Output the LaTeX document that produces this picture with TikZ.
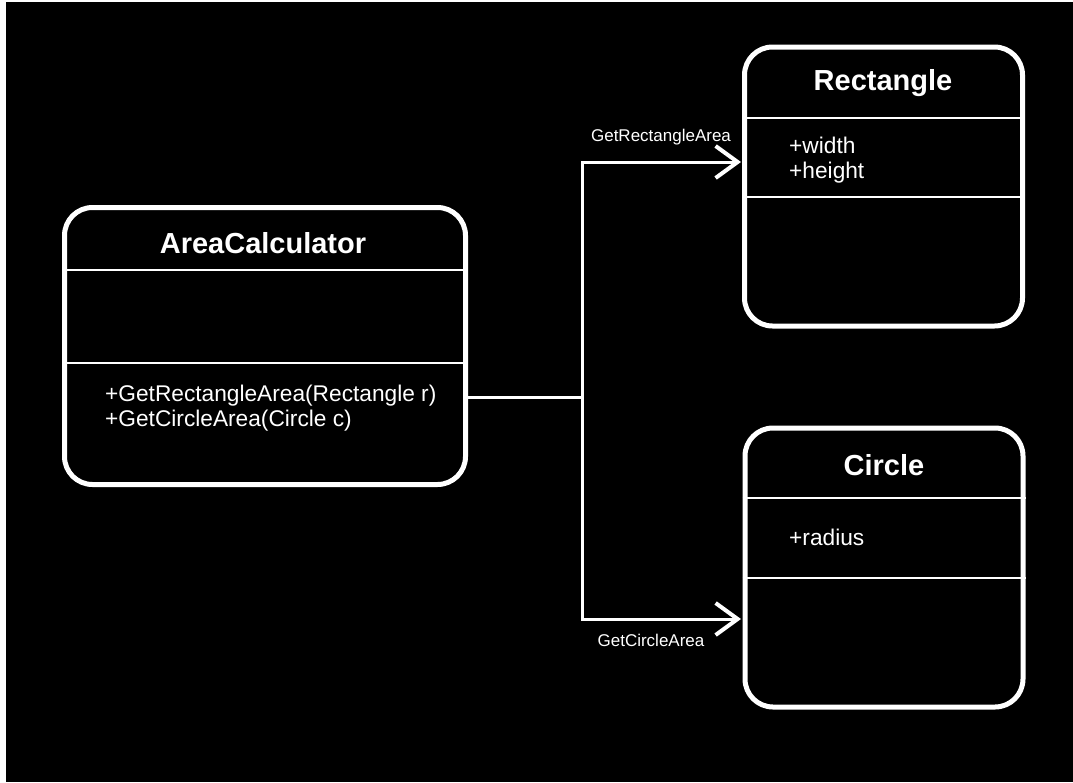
\documentclass[tikz,border=0pt]{standalone}
\usepackage{fontspec}
\setmainfont{Liberation Sans}
\usetikzlibrary{
    arrows.meta,
    calc,
    positioning
}
\tikzset{
    classbox/.style={draw=white, line width=5pt, rounded corners=28pt, inner sep=0pt, minimum width=278pt, minimum height=279pt},
    divider/.style={draw=white, line width=2.5pt},
    classname/.style={text=white, inner sep=0pt, font=\fontsize{29pt}{34pt}\selectfont\bfseries},
    member/.style={text=white, anchor=west, align=left, inner sep=0pt, font=\fontsize{22.7pt}{25pt}\selectfont},
    call/.style={text=white, inner sep=0pt, font=\fontsize{17pt}{20pt}\selectfont},
    link/.style={draw=white, line width=3pt},
    dep/.style={link, -{Straight Barb[length=22pt, width=32pt, line width=4pt]}}
}
\begin{document}
\begin{tikzpicture}[x=1pt, y=-1pt]
                                \useasboundingbox (0, 0) rectangle (1073, 782);
                                \fill[white] (0, 0) rectangle (1073, 782);
                                \fill[black] (6, 2) rectangle (1073, 782);
                                \node[classbox, minimum width=401pt, minimum height=277pt] (calc) at (265, 346) {};
                                \node[classbox] (rect) at (883.5, 186.5) {};
                                \node[classbox] (circ) at (884, 567.5) {};
                                \draw[divider] (calc.west |- 0, 270) -- (calc.east |- 0, 270);
                                \draw[divider] (calc.west |- 0, 363) -- (calc.east |- 0, 363);
                                \draw[divider] (rect.west |- 0, 118) -- (rect.east |- 0, 118);
                                \draw[divider] (rect.west |- 0, 197) -- (rect.east |- 0, 197);
                                \draw[divider] (circ.west |- 0, 498) -- (circ.east |- 0, 498);
                                \draw[divider] (circ.west |- 0, 578) -- (circ.east |- 0, 578);
                                \node[classname] (calcname) at (263, 243) {AreaCalculator};
                                \node[classname] (rectname) at (883, 83) {Rectangle};
                                \node[classname] (circname) at (884, 465) {Circle};
                                \node[member] (calcops) at (105, 408) {+GetRectangleArea(Rectangle r)\\+GetCircleArea(Circle c)};
                                \node[member] (rectattr) at (789, 160.5) {+width\\+height};
                                \node[member] (circattr) at (789, 537) {+radius};
                                \coordinate (j) at (582, 397);
                                \coordinate (rin) at (741, 162);
                                \coordinate (cin) at (741, 619);
                                \draw[link] (calc.east |- j) -- (j);
                                \draw[dep] (j) |- (rin);
                                \draw[dep] (j) |- (cin);
                                \node[call] (rcall) at (661, 137) {GetRectangleArea};
                                \node[call] (ccall) at (651, 640) {GetCircleArea};
                            \end{tikzpicture}
\end{document}
